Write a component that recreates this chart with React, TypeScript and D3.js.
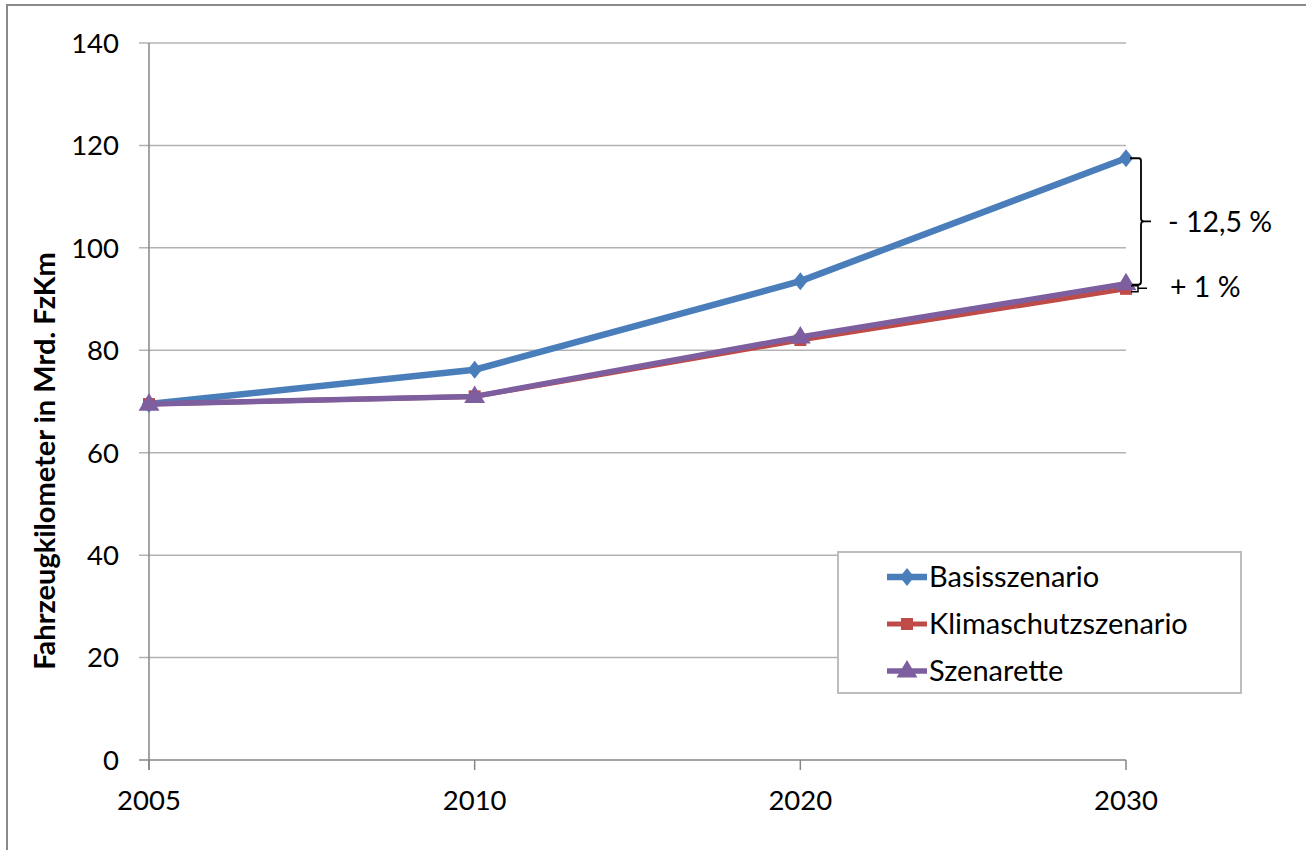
import React from "react";
import * as d3 from "d3";

const years = ["2005", "2010", "2020", "2030"];
const basis = [69.5, 76.2, 93.5, 117.5];
const klima = [69.5, 71.0, 82.0, 92.0];
const szenarette = [69.5, 71.0, 82.6, 93.0];
const yTicks = [0, 20, 40, 60, 80, 100, 120, 140];
const seriesNames = ["Basisszenario", "Klimaschutzszenario", "Szenarette"];
const annotations = ["- 12,5 %", "+ 1 %"];

const FONT = "Lato, 'Liberation Sans', sans-serif";

export default function App() {
  const W = 1306, H = 850;
  const x = d3.scalePoint<string>().domain(years).range([149, 1126]);
  const y = d3.scaleLinear().domain([0, 140]).range([760, 43]);

  const line = d3.line<number>()
    .x((_, i) => x(years[i])!)
    .y((d) => y(d));

  const colors = ["#4A7EBB", "#BE4B48", "#7D5FA0"];
  const widths = [6.5, 5, 5.5];
  const data = [basis, klima, szenarette];

  const marker = (s: number, cx: number, cy: number, key: string | number, scale = 1) => {
    if (s === 0) {
      const r = 9 * scale;
      return <path key={key} d={`M${cx},${cy - r}L${cx + r * 0.8},${cy}L${cx},${cy + r}L${cx - r * 0.8},${cy}Z`} fill={colors[0]} />;
    }
    if (s === 1) {
      const r = 6 * scale;
      return <rect key={key} x={cx - r} y={cy - r} width={2 * r} height={2 * r} fill={colors[1]} />;
    }
    const r = 11 * scale;
    return <path key={key} d={`M${cx},${cy - r}L${cx + r * 0.95},${cy + r * 0.6}L${cx - r * 0.95},${cy + r * 0.6}Z`} fill={colors[2]} />;
  };

  // braces
  const yTop = y(basis[3]);
  const yMid = y(szenarette[3]) + 1;
  const yBot = y(klima[3]) + 3;
  const bx = 1141;
  const bigMid = (yTop + yMid) / 2;
  const bigBrace = `M${1130},${yTop}H${bx - 2}Q${bx},${yTop} ${bx},${yTop + 3}V${bigMid - 3}Q${bx},${bigMid} ${bx + 3},${bigMid}H${1151}M${bx + 3},${bigMid}Q${bx},${bigMid} ${bx},${bigMid + 3}V${yMid - 3}Q${bx},${yMid} ${bx - 3},${yMid}H${1132}`;
  const sx = 1138;
  const smallMid = (yMid + yBot) / 2;
  const smallBrace = `M${1131},${yMid + 1}H${sx}V${yBot}H${1131}M${sx},${smallMid}H${1147}`;

  return (
    <svg width={W} height={H} style={{ position: "absolute", left: 0, top: 0, background: "#fff" }} fontFamily={FONT}>
      {/* frame */}
      <path d={`M7,${H}V5H${W}`} fill="none" stroke="#8a8a8a" strokeWidth={2} />

      {/* gridlines & y ticks */}
      {yTicks.map((t) => (
        <g key={t}>
          <line x1={139} x2={1126} y1={y(t)} y2={y(t)} stroke={t === 0 ? "#868686" : "#b3b3b3"} strokeWidth={1.5} />
          <text x={119} y={y(t)} dy="0.36em" textAnchor="end" fontSize={27.5} fill="#000">{t}</text>
        </g>
      ))}
      {/* y axis line */}
      <line x1={149} x2={149} y1={y(140)} y2={770} stroke="#868686" strokeWidth={1.5} />
      {/* x ticks */}
      {years.map((yr) => (
        <g key={yr}>
          <line x1={x(yr)!} x2={x(yr)!} y1={760} y2={770} stroke="#868686" strokeWidth={1.5} />
          <text x={x(yr)!} y={810} textAnchor="middle" fontSize={27.5} fill="#000">{yr}</text>
        </g>
      ))}

      {/* y title */}
      <text transform={`translate(55,461) rotate(-90)`} textAnchor="middle" fontSize={29} fontWeight="bold" fill="#000">
        Fahrzeugkilometer in Mrd. FzKm
      </text>

      {/* lines */}
      {data.map((d, s) => (
        <g key={s}>
          <path d={line(d)!} fill="none" stroke={colors[s]} strokeWidth={widths[s]} strokeLinejoin="round" />
          {d.map((v, i) => marker(s, x(years[i])!, y(v), i))}
        </g>
      ))}

      {/* braces */}
      <path d={bigBrace} fill="none" stroke="#000" strokeWidth={1.8} />
      <path d={smallBrace} fill="none" stroke="#000" strokeWidth={1.5} />
      <text x={1168} y={bigMid} dy="0.36em" fontSize={28.5} fill="#000">{annotations[0]}</text>
      <text x={1170} y={smallMid - 2} dy="0.36em" fontSize={28.5} fill="#000">{annotations[1]}</text>

      {/* legend */}
      <rect x={838} y={552} width={403} height={141} fill="#fff" stroke="#bdbdbd" strokeWidth={2} />
      {seriesNames.map((n, i) => {
        const ly = 577 + i * 47;
        return (
          <g key={n}>
            <line x1={887} x2={927} y1={ly} y2={ly} stroke={colors[i]} strokeWidth={widths[i]} />
            {marker(i, 907, ly, "m")}
            <text x={929} y={ly} dy="0.36em" fontSize={29} fill="#000">{n}</text>
          </g>
        );
      })}
    </svg>
  );
}
